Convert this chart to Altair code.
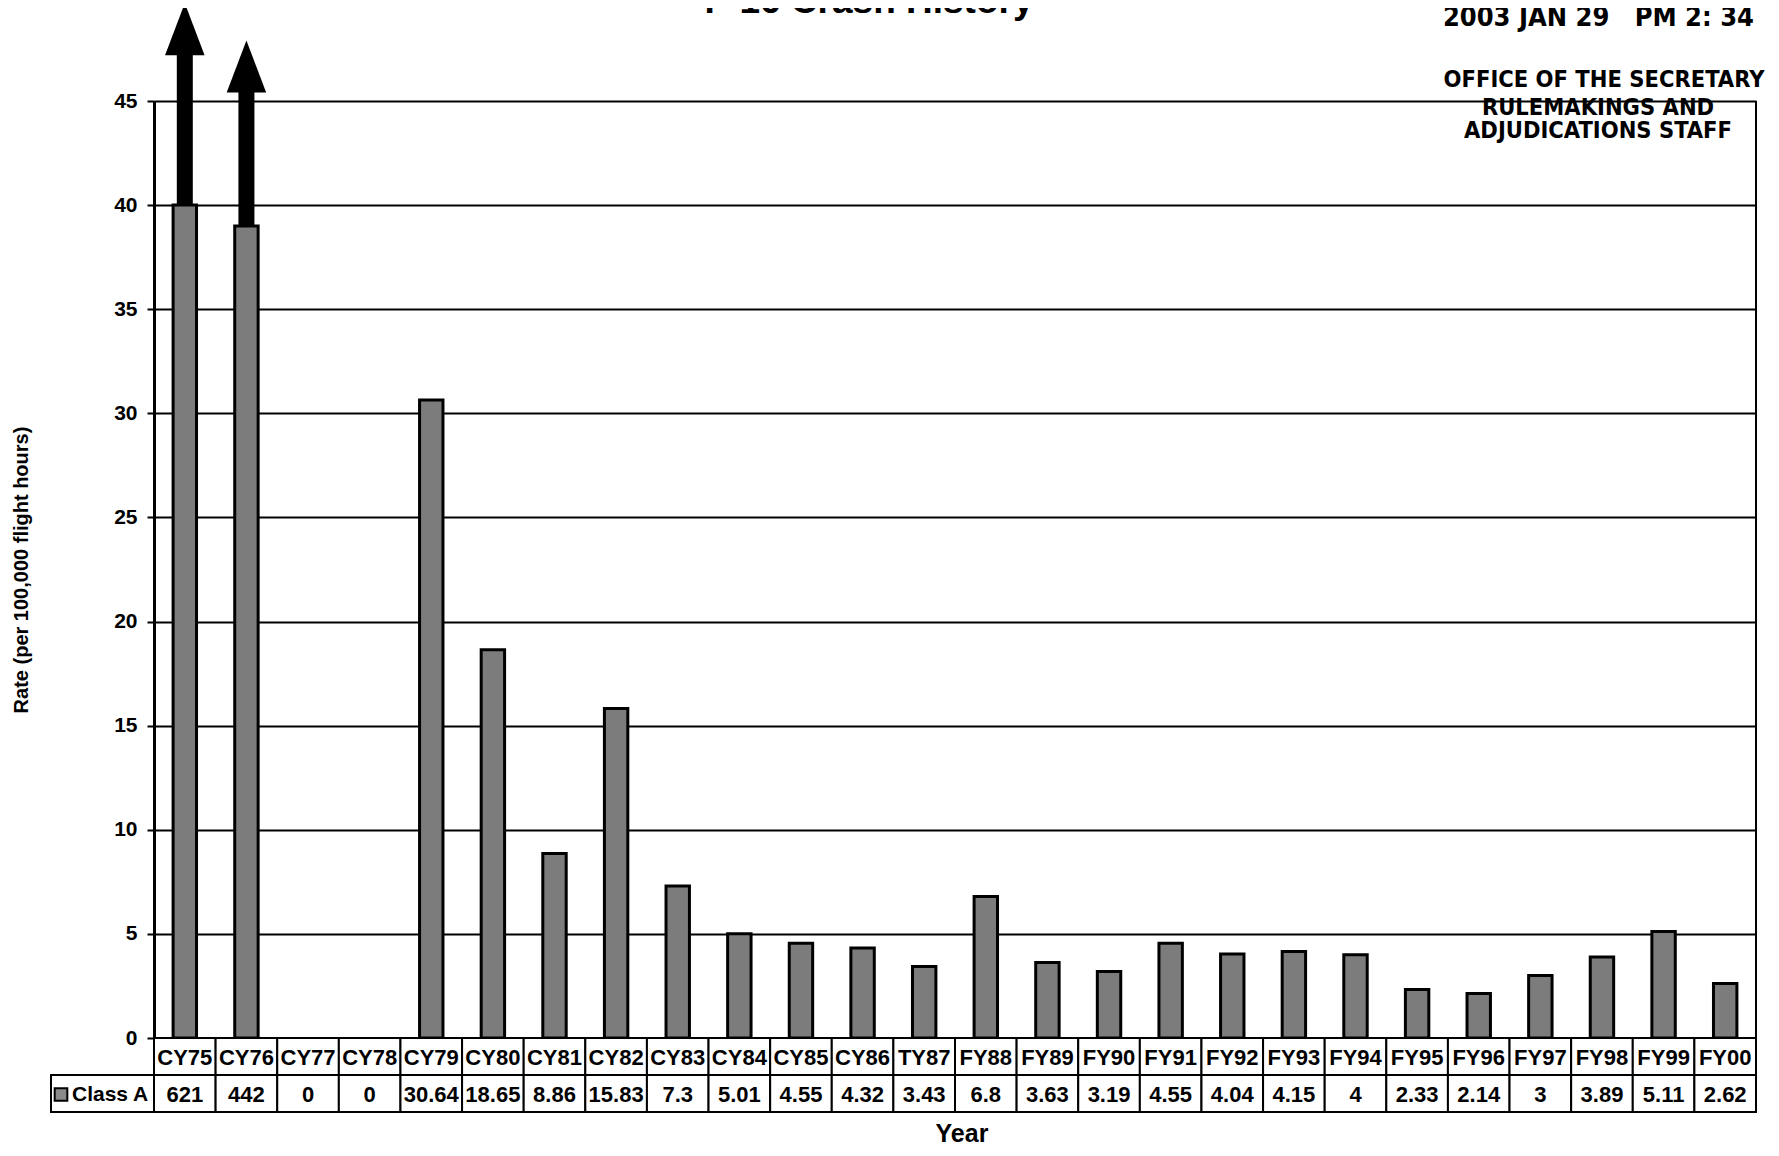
import altair as alt
import pandas as pd

# ---------------- data ----------------
categories = ["CY75", "CY76", "CY77", "CY78", "CY79", "CY80", "CY81", "CY82",
              "CY83", "CY84", "CY85", "CY86", "TY87", "FY88", "FY89", "FY90",
              "FY91", "FY92", "FY93", "FY94", "FY95", "FY96", "FY97", "FY98",
              "FY99", "FY00"]
table_labels = ["621", "442", "0", "0", "30.64", "18.65", "8.86", "15.83",
                "7.3", "5.01", "4.55", "4.32", "3.43", "6.8", "3.63", "3.19",
                "4.55", "4.04", "4.15", "4", "2.33", "2.14", "3", "3.89",
                "5.11", "2.62"]
# bar heights as drawn (the two off-scale years are cut off at 40 and 39)
drawn_rates = [40, 39, 0, 0, 30.64, 18.65, 8.86, 15.83, 7.3, 5.01, 4.55, 4.32,
               3.43, 6.8, 3.63, 3.19, 4.55, 4.04, 4.15, 4, 2.33, 2.14, 3, 3.89,
               5.11, 2.62]
off_scale_years = ["CY75", "CY76"]
off_scale_bar_top = [40, 39]
arrow_tips = [49.7, 47.9]
y_ticks = [0, 5, 10, 15, 20, 25, 30, 35, 40, 45]

chart_title = "F-16 Crash History"
stamp_lines = ["2003 JAN 29\u00a0\u00a0 PM 2: 34", "OFFICE OF THE SECRETARY",
               "RULEMAKINGS AND", "ADJUDICATIONS STAFF"]
series_name = "Class A"
x_title = "Year"
y_title = "Rate (per 100,000 flight hours)"

# ---------------- layout constants ----------------
W = 1602
H = 937
ROW_H = 37
FONT = "Liberation Sans"
STAMP_FONT = "DejaVu Sans Condensed, Liberation Sans Narrow, Liberation Sans"

df = pd.DataFrame({"year": categories, "label": table_labels, "drawn": drawn_rates})
arrows = pd.DataFrame({"year": off_scale_years, "base": off_scale_bar_top, "tip": arrow_tips})
one = pd.DataFrame({"k": [0]})

xscale = alt.Scale(domain=categories, paddingInner=0, paddingOuter=0)
X = alt.X("year:N", sort=categories, scale=xscale, axis=None)
yscale = alt.Scale(domain=[0, 45], nice=False)

y_axis = alt.Axis(values=y_ticks, labelFontSize=21, labelFont=FONT, labelFontWeight="bold",
                  labelColor="black", tickColor="black", tickSize=7, tickWidth=2,
                  domainColor="black", domainWidth=3, grid=True, gridColor="black",
                  gridWidth=2, gridOpacity=1, labelPadding=10,
                  title=y_title, titleFontSize=20, titleFont=FONT, titleFontWeight="bold",
                  titleColor="black", titleX=-133, titleY=H / 2, titleAngle=270,
                  titleBaseline="middle", titleAlign="center")

bars = alt.Chart(df).transform_filter("datum.drawn > 0").mark_bar(
    width=alt.RelativeBandSize(0.38), fill="#7c7c7c", stroke="black", strokeWidth=3
).encode(x=X, y=alt.Y("drawn:Q", scale=yscale, axis=y_axis))

shafts = alt.Chart(arrows).transform_calculate(top="datum.tip - 1.3").mark_rule(
    color="black", strokeWidth=16
).encode(x=X, y=alt.Y("base:Q", scale=yscale), y2="top:Q")

heads = alt.Chart(arrows).mark_point(
    shape="M0,0L0.76,2L-0.76,2Z", size=2704, filled=True, color="black", opacity=1
).encode(x=X, y=alt.Y("tip:Q", scale=yscale))

right_border = alt.Chart(one).mark_rule(color="black", strokeWidth=2).encode(
    x=alt.value(W), y=alt.value(0), y2=alt.value(H))

title_txt = alt.Chart(one).mark_text(
    text=chart_title, font=FONT, fontSize=37, fontWeight="bold", color="black",
    align="center", baseline="alphabetic"
).encode(x=alt.value(715), y=alt.value(-88))

stamp1 = alt.Chart(one).mark_text(
    text=stamp_lines[0], font=STAMP_FONT, fontSize=27, fontWeight="bold", color="black",
    align="right", baseline="alphabetic"
).encode(x=alt.value(1600), y=alt.value(-75))
stamp2 = alt.Chart(one).mark_text(
    text=stamp_lines[1], font=STAMP_FONT, fontSize=23.5, fontWeight="bold", color="black",
    align="center", baseline="alphabetic"
).encode(x=alt.value(1450), y=alt.value(-14))
stamp3 = alt.Chart(one).mark_text(
    text=stamp_lines[2], font=STAMP_FONT, fontSize=23.5, fontWeight="bold", color="black",
    align="center", baseline="alphabetic"
).encode(x=alt.value(1444), y=alt.value(14))
stamp4 = alt.Chart(one).mark_text(
    text=stamp_lines[3], font=STAMP_FONT, fontSize=23.5, fontWeight="bold", color="black",
    align="center", baseline="alphabetic"
).encode(x=alt.value(1444), y=alt.value(37))

top = alt.layer(bars, shafts, heads, right_border, title_txt,
                stamp1, stamp2, stamp3, stamp4).properties(width=W, height=H)

# ---------------- data table ----------------
cat_cells = alt.Chart(df).mark_rect(fill="white", stroke="black", strokeWidth=2).encode(
    x=X, y=alt.value(0), y2=alt.value(ROW_H))
cat_text = alt.Chart(df).mark_text(font=FONT, fontSize=22, fontWeight="bold",
                                   color="black", baseline="middle").encode(
    x=X, y=alt.value(ROW_H / 2 + 1), text="year:N")
cat_row = alt.layer(cat_cells, cat_text).properties(width=W, height=ROW_H)

val_cells = alt.Chart(df).mark_rect(fill="white", stroke="black", strokeWidth=2).encode(
    x=X, y=alt.value(0), y2=alt.value(ROW_H))
val_text = alt.Chart(df).mark_text(font=FONT, fontSize=22, fontWeight="bold",
                                   color="black", baseline="middle").encode(
    x=X, y=alt.value(ROW_H / 2 + 1), text="label:N")
head_cell = alt.Chart(one).mark_rect(fill="white", stroke="black", strokeWidth=2).encode(
    x=alt.value(-103), x2=alt.value(0), y=alt.value(0), y2=alt.value(ROW_H))
head_icon = alt.Chart(one).mark_square(size=160, fill="#8a8a8a", stroke="black",
                                       strokeWidth=2, opacity=1).encode(
    x=alt.value(-93), y=alt.value(ROW_H / 2 + 1))
head_text = alt.Chart(one).mark_text(text=series_name, font=FONT, fontSize=21,
                                     fontWeight="bold", color="black", align="left",
                                     baseline="middle").encode(
    x=alt.value(-82), y=alt.value(ROW_H / 2 + 1))
year_text = alt.Chart(one).mark_text(text=x_title, font=FONT, fontSize=25,
                                     fontWeight="bold", color="black", align="center",
                                     baseline="middle").encode(
    x=alt.value(W / 2 + 7), y=alt.value(ROW_H + 22))
val_row = alt.layer(val_cells, val_text, head_cell, head_icon, head_text,
                    year_text).properties(width=W, height=ROW_H)

chart = alt.vconcat(top, cat_row, val_row, spacing=0, bounds="flush").properties(
    padding={"left": 2, "top": -26, "right": 0, "bottom": 5}
).configure_view(stroke=None).configure(background="white")

chart.save("out.html", embed_options={"renderer": "svg", "actions": False})
